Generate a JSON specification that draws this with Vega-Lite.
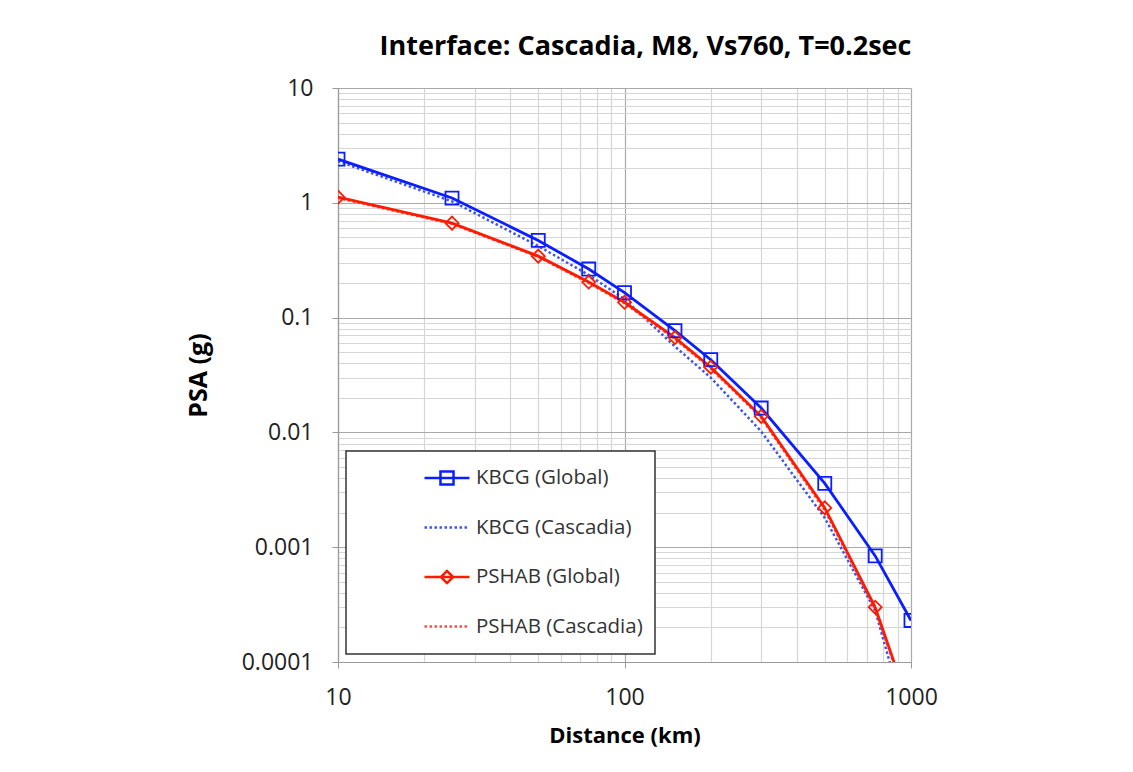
{
  "$schema": "https://vega.github.io/schema/vega-lite/v6.json",
  "width": 573,
  "height": 574,
  "autosize": {"type": "none"},
  "padding": {"left": 338, "top": 88, "right": 222, "bottom": 110},
  "background": "white",
  "title": {
    "text": "Interface: Cascadia, M8, Vs760, T=0.2sec",
    "font": "Open Sans",
    "fontSize": 27,
    "fontWeight": "bold",
    "color": "#000000",
    "anchor": "middle",
    "dx": 21,
    "offset": 16
  },
  "data": {
    "values": [
      {"distance": 10, "psa": 2.4, "series": "KBCG (Global)"},
      {"distance": 25, "psa": 1.1, "series": "KBCG (Global)"},
      {"distance": 50, "psa": 0.47, "series": "KBCG (Global)"},
      {"distance": 75, "psa": 0.265, "series": "KBCG (Global)"},
      {"distance": 100, "psa": 0.165, "series": "KBCG (Global)"},
      {"distance": 150, "psa": 0.077, "series": "KBCG (Global)"},
      {"distance": 200, "psa": 0.043, "series": "KBCG (Global)"},
      {"distance": 300, "psa": 0.0163, "series": "KBCG (Global)"},
      {"distance": 500, "psa": 0.0036, "series": "KBCG (Global)"},
      {"distance": 750, "psa": 0.00084, "series": "KBCG (Global)"},
      {"distance": 1000, "psa": 0.00023, "series": "KBCG (Global)"},
      {"distance": 10, "psa": 2.3, "series": "KBCG (Cascadia)"},
      {"distance": 25, "psa": 1.03, "series": "KBCG (Cascadia)"},
      {"distance": 50, "psa": 0.42, "series": "KBCG (Cascadia)"},
      {"distance": 75, "psa": 0.235, "series": "KBCG (Cascadia)"},
      {"distance": 100, "psa": 0.145, "series": "KBCG (Cascadia)"},
      {"distance": 150, "psa": 0.056, "series": "KBCG (Cascadia)"},
      {"distance": 200, "psa": 0.03, "series": "KBCG (Cascadia)"},
      {"distance": 300, "psa": 0.0102, "series": "KBCG (Cascadia)"},
      {"distance": 500, "psa": 0.0018, "series": "KBCG (Cascadia)"},
      {"distance": 750, "psa": 0.00028, "series": "KBCG (Cascadia)"},
      {"distance": 1000, "psa": 0.000022, "series": "KBCG (Cascadia)"},
      {"distance": 10, "psa": 1.12, "series": "PSHAB (Global)"},
      {"distance": 25, "psa": 0.665, "series": "PSHAB (Global)"},
      {"distance": 50, "psa": 0.343, "series": "PSHAB (Global)"},
      {"distance": 75, "psa": 0.204, "series": "PSHAB (Global)"},
      {"distance": 100, "psa": 0.136, "series": "PSHAB (Global)"},
      {"distance": 150, "psa": 0.067, "series": "PSHAB (Global)"},
      {"distance": 200, "psa": 0.037, "series": "PSHAB (Global)"},
      {"distance": 300, "psa": 0.0138, "series": "PSHAB (Global)"},
      {"distance": 500, "psa": 0.0022, "series": "PSHAB (Global)"},
      {"distance": 750, "psa": 0.0003, "series": "PSHAB (Global)"},
      {"distance": 1000, "psa": 0.000037, "series": "PSHAB (Global)"},
      {"distance": 10, "psa": 1.1, "series": "PSHAB (Cascadia)"},
      {"distance": 25, "psa": 0.655, "series": "PSHAB (Cascadia)"},
      {"distance": 50, "psa": 0.338, "series": "PSHAB (Cascadia)"},
      {"distance": 75, "psa": 0.2, "series": "PSHAB (Cascadia)"},
      {"distance": 100, "psa": 0.133, "series": "PSHAB (Cascadia)"},
      {"distance": 150, "psa": 0.065, "series": "PSHAB (Cascadia)"},
      {"distance": 200, "psa": 0.036, "series": "PSHAB (Cascadia)"},
      {"distance": 300, "psa": 0.0134, "series": "PSHAB (Cascadia)"},
      {"distance": 500, "psa": 0.0021, "series": "PSHAB (Cascadia)"},
      {"distance": 750, "psa": 0.00029, "series": "PSHAB (Cascadia)"},
      {"distance": 1000, "psa": 0.000035, "series": "PSHAB (Cascadia)"}
    ]
  },
  "encoding": {
    "x": {
      "field": "distance",
      "type": "quantitative",
      "scale": {"type": "log", "domain": [10, 1000], "nice": false},
      "axis": {
        "title": "Distance (km)",
        "values": [10, 20, 30, 40, 50, 60, 70, 80, 90, 100, 200, 300, 400, 500, 600, 700, 800, 900, 1000],
        "format": "~g",
        "labelExpr": "indexof([10,100,1000], datum.value) >= 0 ? datum.label : ''",
        "labelOverlap": false,
        "labelFlush": false,
        "gridColor": {"condition": {"test": "indexof([10,100,1000], datum.value) >= 0", "value": "#a9a9a9"}, "value": "#d6d6d6"},
        "tickOpacity": {"condition": {"test": "indexof([10,100,1000], datum.value) >= 0", "value": 1}, "value": 0},
        "labelPadding": 18,
        "titleFontSize": 22,
        "titlePadding": 16
      }
    },
    "y": {
      "field": "psa",
      "type": "quantitative",
      "scale": {"type": "log", "domain": [0.0001, 10], "nice": false},
      "axis": {
        "title": "PSA (g)",
        "values": [0.0001, 0.0002, 0.0003, 0.0004, 0.0005, 0.0006, 0.0007, 0.0008, 0.0009, 0.001, 0.002, 0.003, 0.004, 0.005, 0.006, 0.007, 0.008, 0.009, 0.01, 0.02, 0.03, 0.04, 0.05, 0.06, 0.07, 0.08, 0.09, 0.1, 0.2, 0.3, 0.4, 0.5, 0.6, 0.7, 0.8, 0.9, 1, 2, 3, 4, 5, 6, 7, 8, 9, 10],
        "format": "~g",
        "labelExpr": "indexof([0.0001,0.001,0.01,0.1,1,10], datum.value) >= 0 ? datum.label : ''",
        "labelOverlap": false,
        "labelFlush": false,
        "gridColor": {"condition": {"test": "indexof([0.0001,0.001,0.01,0.1,1,10], datum.value) >= 0", "value": "#a9a9a9"}, "value": "#d6d6d6"},
        "tickOpacity": {"condition": {"test": "indexof([0.0001,0.001,0.01,0.1,1,10], datum.value) >= 0", "value": 1}, "value": 0},
        "labelPadding": 19,
        "titleFontSize": 25,
        "titlePadding": 30
      }
    },
    "color": {
      "field": "series",
      "type": "nominal",
      "scale": {
        "domain": ["KBCG (Global)", "KBCG (Cascadia)", "PSHAB (Global)", "PSHAB (Cascadia)"],
        "range": ["#0a1eff", "#3b55ea", "#ff1a00", "#ff4a4a"]
      },
      "legend": {
        "title": null,
        "orient": "bottom-left",
        "offset": 8,
        "padding": 12,
        "fillColor": "white",
        "strokeColor": "#333333",
        "labelFont": "Open Sans",
        "labelFontSize": 20.5,
        "labelColor": "#333333",
        "labelLimit": 400,
        "symbolSize": 2025,
        "clipHeight": 30,
        "rowPadding": 19.5,
        "symbolOffset": 65,
        "labelOffset": 5,
        "encode": {
          "legend": {"update": {"strokeWidth": {"value": 1.5}}},
          "symbols": {
            "update": {
              "shape": {"signal": "datum.value === 'KBCG (Global)' ? 'M-1,0H1M-0.29,-0.29H0.29V0.29H-0.29Z' : (datum.value === 'PSHAB (Global)' ? 'M-1,0H1M0,-0.27L0.27,0L0,0.27L-0.27,0Z' : 'M-1,0H1')"},
              "strokeDash": {"signal": "indexof(datum.value, 'Cascadia') >= 0 ? [2.5, 2.5] : [1, 0]"},
              "strokeWidth": {"value": 2.5},
              "fill": {"value": "transparent"},
              "size": {"value": 2025}
            }
          }
        }
      }
    }
  },
  "layer": [
    {
      "transform": [{"filter": "indexof(datum.series, 'Cascadia') >= 0"}],
      "mark": {"type": "line", "clip": true, "strokeWidth": 2.5, "strokeDash": [2.5, 2.5]}
    },
    {
      "transform": [{"filter": "indexof(datum.series, 'Global') >= 0"}],
      "mark": {"type": "line", "clip": true, "strokeWidth": 2.8}
    },
    {
      "transform": [{"filter": "indexof(datum.series, 'Global') >= 0"}],
      "mark": {"type": "point", "clip": true, "filled": false, "strokeWidth": 1.8, "size": 170, "opacity": 1},
      "encoding": {
        "shape": {
          "field": "series",
          "type": "nominal",
          "scale": {"domain": ["KBCG (Global)", "PSHAB (Global)"], "range": ["square", "diamond"]},
          "legend": null
        }
      }
    }
  ],
  "config": {
    "font": "Open Sans",
    "view": {"stroke": null},
    "axis": {
      "labelFont": "Open Sans",
      "labelFontSize": 23,
      "labelColor": "#222222",
      "titleFont": "Open Sans",
      "titleFontSize": 22,
      "titleFontWeight": "bold",
      "titleColor": "#000000",
      "domainColor": "#9a9a9a",
      "domainWidth": 1.2,
      "tickColor": "#9a9a9a",
      "tickSize": 6,
      "gridWidth": 1.2,
      "grid": true
    }
  }
}
